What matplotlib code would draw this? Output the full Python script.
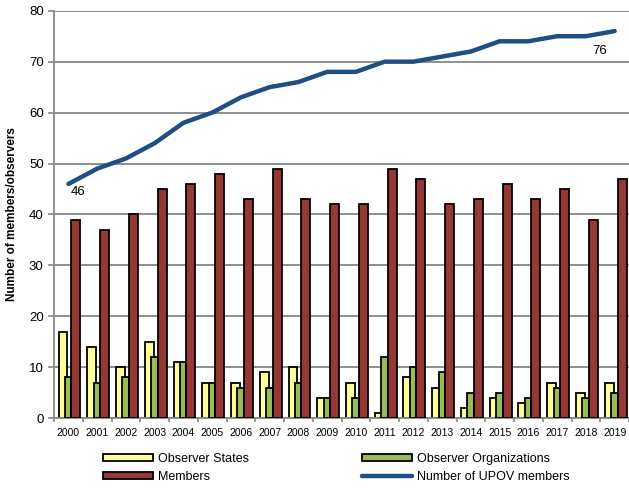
import matplotlib
matplotlib.use("Agg")
from matplotlib import pyplot as plt
from matplotlib.ticker import FixedLocator
import numpy as np

# data
years = [str(y) for y in range(2000, 2020)]
observer_states = [17, 14, 10, 15, 11, 7, 7, 9, 10, 4, 7, 1, 8, 6, 2, 4, 3, 7, 5, 7]
observer_orgs = [8, 7, 8, 12, 11, 7, 6, 6, 7, 4, 4, 12, 10, 9, 5, 5, 4, 6, 4, 5]
members_present = [39, 37, 40, 45, 46, 48, 43, 49, 43, 42, 42, 49, 47, 42, 43, 46, 43, 45, 39, 47]
upov_members = [46, 49, 51, 54, 58, 60, 63, 65, 66, 68, 68, 70, 70, 71, 72, 74, 74, 75, 75, 76]
y_ticks = list(range(0, 81, 10))

plt.rcParams["font.family"] = ["Liberation Sans", "DejaVu Sans"]

fig = plt.figure(figsize=(6.29, 4.88), dpi=100)
ax = fig.add_axes([0.086, 0.143, 0.914, 0.835])

x = np.arange(len(years))
grey = "#878787"

ax.bar(x - 0.19, observer_states, width=0.31, color="#FFFF99", edgecolor="black",
       linewidth=1.3, label="Observer States", zorder=2)
ax.bar(x - 0.01, observer_orgs, width=0.23, color="#9BBB59", edgecolor="black",
       linewidth=1.3, label="Observer Organizations", zorder=3)
ax.bar(x + 0.26, members_present, width=0.31, color="#953735", edgecolor="black",
       linewidth=1.3, label="Members", zorder=3)
ax.plot(x, upov_members, color="#1F4E85", linewidth=3.2, solid_capstyle="round",
        label="Number of UPOV members", zorder=4)

# end labels on the line
ax.annotate(str(upov_members[0]), xy=(x[0], upov_members[0]), xytext=(7, -6),
            textcoords="offset points", ha="center", va="center", fontsize=9.5)
ax.annotate(str(upov_members[-1]), xy=(x[-1], upov_members[-1]), xytext=(-11, -14),
            textcoords="offset points", ha="center", va="center", fontsize=9.5)

ax.set_xlim(-0.5, len(years) - 0.5)
ax.set_ylim(0, 80)
ax.set_yticks(y_ticks)
ax.tick_params(axis="y", labelsize=9.5, length=4, color=grey, width=1.2)
ax.set_xticks(x)
ax.set_xticklabels(years)
ax.xaxis.set_minor_locator(FixedLocator(np.arange(-0.5, len(years), 1.0)))
ax.tick_params(axis="x", which="major", length=0, labelsize=7.5, pad=7)
ax.tick_params(axis="x", which="minor", length=3, color=grey, width=1.2)

ax.grid(axis="y", color=grey, linewidth=1.3, zorder=0)
ax.set_axisbelow(True)
for side in ["top", "right"]:
    ax.spines[side].set_visible(False)
for side in ["left", "bottom"]:
    ax.spines[side].set_color(grey)
    ax.spines[side].set_linewidth(1.3)

ax.set_ylabel("Number of members/observers", fontsize=8.5, fontweight="bold", labelpad=8)

handles, labels = ax.get_legend_handles_labels()
order = [1, 3, 2, 0]  # legend fills column by column
handles = [handles[i] for i in order]
labels = [labels[i] for i in order]
fig.legend(handles, labels, ncol=2, loc="lower left", bbox_to_anchor=(0.146, -0.013),
           frameon=False, fontsize=9, handlelength=4.0, handleheight=0.45,
           handletextpad=0.4, columnspacing=9.0, labelspacing=0.5)

fig.savefig("out.png", dpi=100)
